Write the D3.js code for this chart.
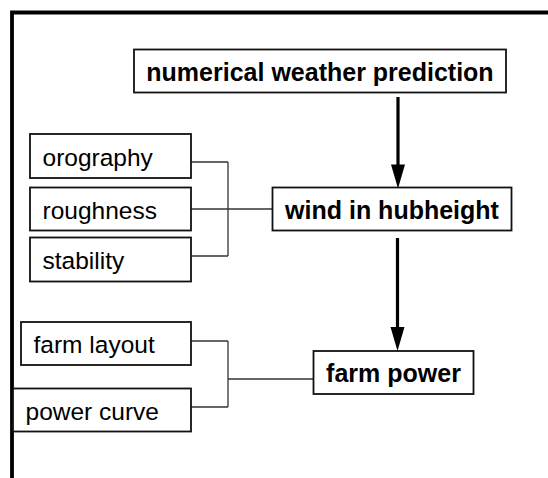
<!doctype html>
<html lang="en">
<head>
  <meta charset="utf-8">
  <title>Wind power forecast chain</title>
  <script src="https://d3js.org/d3.v7.min.js"></script>
  <style>
    body { margin: 0; background: #fff; }
    svg { display: block; }
    .box { fill: #fff; stroke: #111; stroke-width: 1.8; }
    .link { fill: none; stroke: #333; stroke-width: 1.3; }
    .arrow { fill: none; stroke: #000; stroke-width: 3.2; }
    .head { fill: #000; }
    text { font-family: "Liberation Sans", Arial, sans-serif; fill: #000; }
    .main text { font-size: 25px; font-weight: bold; text-anchor: middle; }
    .input text { font-size: 24.5px; }
  </style>
</head>
<body>
  <div id="chart"></div>
  <script>
    // labels of the chain
    const mainLabels = ['numerical weather prediction', 'wind in hubheight', 'farm power'];
    const siteLabels = ['orography', 'roughness', 'stability'];
    const farmLabels = ['farm layout', 'power curve'];

    // layout of the boxes (pixels): [x0, y0, x1, y1]
    const mainBoxes = [[134, 49.5, 506, 92.5], [272.5, 187.5, 511.5, 230.5], [313.5, 351, 473.5, 394]];
    const siteBoxes = [[30, 134, 191, 178], [30, 187.5, 191, 230.5], [30, 237.5, 191, 281.5]];
    const farmBoxes = [[21, 322, 191, 365], [13, 388.5, 191, 431.5]];
    // y where the connector leaves each input box
    const siteJoinY = [162, 209, 256];
    const farmJoinY = [341, 407];
    const joinX = 228;

    const width = 548, height = 478;

    const svg = d3.select('#chart').append('svg')
      .attr('width', width)
      .attr('height', height);

    // outer frame, cut off at right and bottom
    svg.append('path')
      .attr('d', 'M12,' + height + 'V12.5H' + width)
      .attr('fill', 'none')
      .attr('stroke', '#000')
      .attr('stroke-width', 3.8);

    // connectors (drawn first so boxes sit on top)
    function bracket(joinYs, targetBox, targetY) {
      const g = svg.append('g');
      g.selectAll('line.in')
        .data(joinYs)
        .join('line')
        .attr('class', 'link')
        .attr('x1', 191).attr('x2', joinX)
        .attr('y1', d => d).attr('y2', d => d);
      g.append('line')
        .attr('class', 'link')
        .attr('x1', joinX).attr('x2', joinX)
        .attr('y1', d3.min(joinYs)).attr('y2', d3.max(joinYs));
      g.append('line')
        .attr('class', 'link')
        .attr('x1', joinX).attr('x2', targetBox[0])
        .attr('y1', targetY).attr('y2', targetY);
    }
    bracket(siteJoinY, mainBoxes[1], 209);
    bracket(farmJoinY, mainBoxes[2], 379);

    // vertical arrows between the main boxes
    const arrows = [
      { x: 398, y0: 97, y1: mainBoxes[1][1] + 1 },
      { x: 397.5, y0: 238, y1: mainBoxes[2][1] }
    ];
    const headLen = 24, headHalf = 7;
    const ag = svg.append('g');
    ag.selectAll('line')
      .data(arrows)
      .join('line')
      .attr('class', 'arrow')
      .attr('x1', d => d.x).attr('x2', d => d.x)
      .attr('y1', d => d.y0).attr('y2', d => d.y1 - headLen + 2);
    ag.selectAll('path')
      .data(arrows)
      .join('path')
      .attr('class', 'head')
      .attr('d', d => `M${d.x - headHalf},${d.y1 - headLen}L${d.x + headHalf},${d.y1 - headLen}L${d.x},${d.y1}Z`);

    // draw a set of boxes with labels
    function drawBoxes(labels, boxes, cls, centred) {
      const g = svg.append('g').attr('class', cls)
        .selectAll('g')
        .data(labels.map((l, i) => ({ label: l, b: boxes[i] })))
        .join('g');
      g.append('rect')
        .attr('class', 'box')
        .attr('x', d => d.b[0]).attr('y', d => d.b[1])
        .attr('width', d => d.b[2] - d.b[0])
        .attr('height', d => d.b[3] - d.b[1]);
      g.append('text')
        .attr('x', d => centred ? (d.b[0] + d.b[2]) / 2 : d.b[0] + 12.5)
        .attr('y', d => (d.b[1] + d.b[3]) / 2 + 9.5)
        .text(d => d.label);
    }
    drawBoxes(mainLabels, mainBoxes, 'main', true);
    drawBoxes(siteLabels, siteBoxes, 'input', false);
    drawBoxes(farmLabels, farmBoxes, 'input', false);
  </script>
</body>
</html>
